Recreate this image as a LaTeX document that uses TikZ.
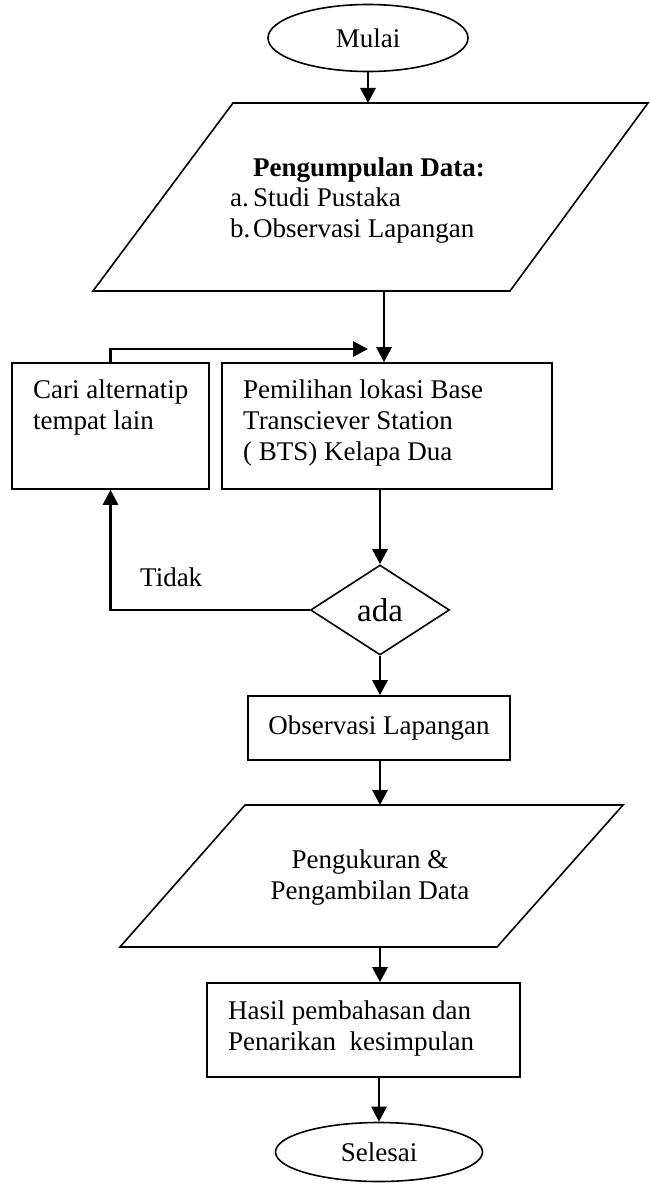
\documentclass[tikz,border=0pt]{standalone}
\usepackage{fontspec}
\setmainfont{Liberation Serif}
\usetikzlibrary{shapes.geometric,arrows.meta}
\begin{document}
\begin{tikzpicture}[x=1pt,y=-1pt,
  shapeline/.style={draw, line width=1.6pt},
  box/.style={shapeline, rectangle, inner sep=0},
  oval/.style={shapeline, ellipse, inner sep=0, font=\fontsize{27}{31}\selectfont},
  conn/.style={line width=2.8pt, -{Triangle[width=15pt,length=15pt]}},
  txt/.style={font=\fontsize{27}{31}\selectfont, inner sep=0, align=left},
]
\useasboundingbox (0,0) rectangle (650,1185);

% terminals
\node[oval, minimum width=200pt, minimum height=67pt] (mulai) at (368,38) {Mulai};
\node[oval, minimum width=207pt, minimum height=59pt] (selesai) at (379,1152) {Selesai};

% parallelogram 1
\draw[shapeline, line join=miter] (233,103) -- (648,103) -- (510,291) -- (93,291) -- cycle;
\coordinate (p1top) at (368,103);
\coordinate (p1bot) at (384,291);
\node[txt, anchor=base west] (p1head) at (253,177) {\textbf{Pengumpulan Data:}};
\node[txt, anchor=base west] (p1a) at (230,207) {\makebox[23pt][l]{a.}Studi Pustaka};
\node[txt, anchor=base west] (p1b) at (230,237) {\makebox[23pt][l]{b.}Observasi Lapangan};

% boxes
\node[box, minimum width=197pt, minimum height=126pt] (cari) at (110.5,426) {};
\node[txt, anchor=north west] (caritxt) at (33,380) {Cari alternatip\\tempat lain};
\node[box, minimum width=330pt, minimum height=126pt] (pem) at (387,426) {};
\node[txt, anchor=north west] (pemtxt) at (243,380) {Pemilihan lokasi Base\\Transciever Station\\( BTS) Kelapa Dua};

% decision
\node[shapeline, diamond, inner sep=0, minimum width=139pt, minimum height=90pt,
      font=\fontsize{33}{38}\selectfont] (dec) at (380,610) {ada};
\node[txt, anchor=base west] (tidak) at (140,586) {Tidak};

\node[box, minimum width=262pt, minimum height=64pt, font=\fontsize{27}{31}\selectfont] (obs) at (379,728) {Observasi Lapangan};

% parallelogram 2
\draw[shapeline, line join=miter] (245,805) -- (623,805) -- (497,947) -- (120,947) -- cycle;
\coordinate (p2top) at (380,805);
\coordinate (p2bot) at (380,947);
\node[txt, align=center, anchor=north] (p2txt) at (370,850) {Pengukuran \&\\Pengambilan Data};

\node[box, minimum width=313pt, minimum height=94pt] (hasil) at (363.5,1030) {};
\node[txt, anchor=north west] (hasiltxt) at (228,1001) {Hasil pembahasan dan\\Penarikan\ \ kesimpulan};

\coordinate (loopend) at (368,349);

% connectors
\draw[conn] (mulai.south) -- (p1top);
\draw[conn] (p1bot) -- (p1bot |- pem.north);
\draw[conn] (cari.north) |- (loopend);
\draw[conn] (dec.north |- pem.south) -- (dec.north);
\draw[conn] (dec.west) -| (cari.south);
\draw[conn] (dec.south) -- (dec.south |- obs.north);
\draw[conn] (obs.south -| p2top) -- (p2top);
\draw[conn] (p2bot) -- (p2bot |- hasil.north);
\draw[conn] (selesai.north |- hasil.south) -- (selesai.north);
\end{tikzpicture}
\end{document}
